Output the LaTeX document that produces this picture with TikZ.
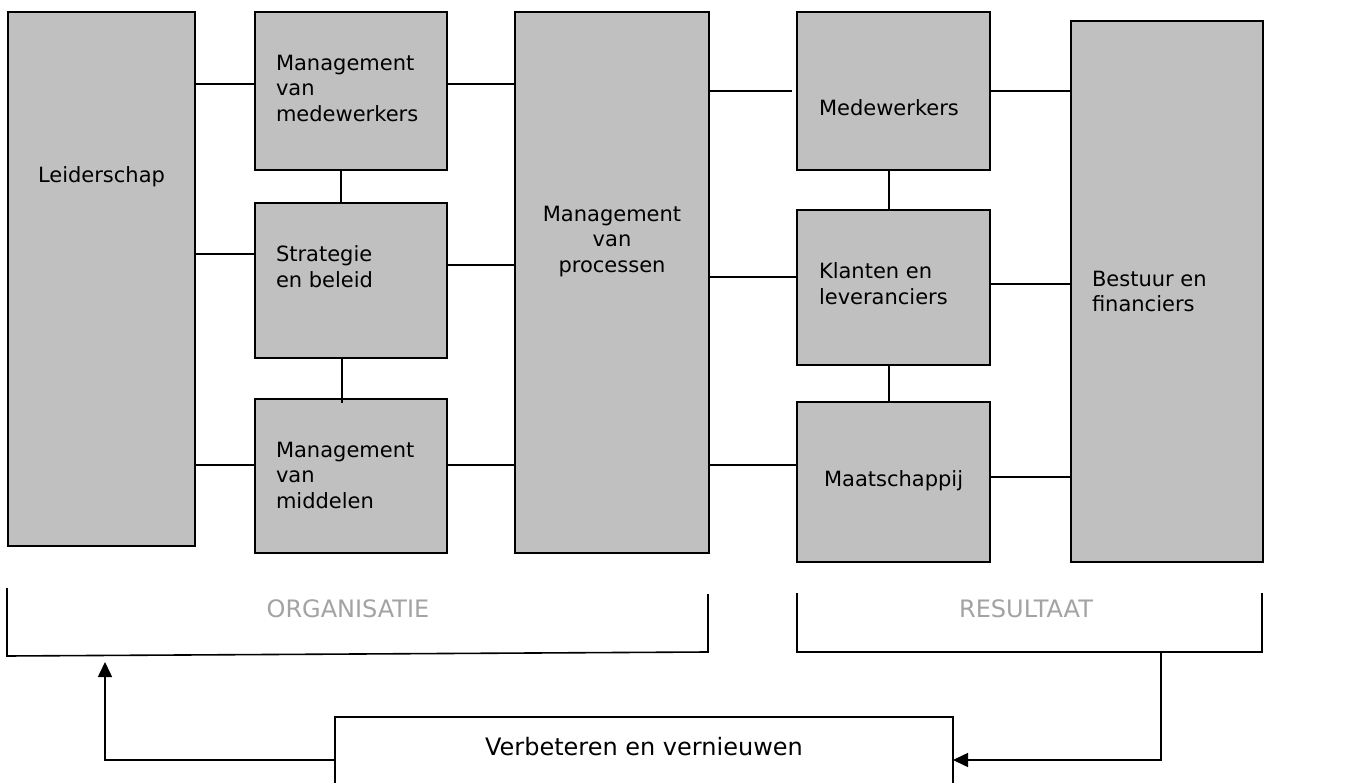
\documentclass[tikz,border=0pt]{standalone}
\usepackage{fontspec}
\setmainfont{DejaVu Sans}
\usetikzlibrary{arrows.meta}
\definecolor{boxfill}{HTML}{C0C0C0}
\definecolor{lblgray}{HTML}{A3A3A3}
\begin{document}
\begin{tikzpicture}[x=1pt,y=-1pt,
  box/.style={draw=black,line width=1.6pt,fill=boxfill,inner sep=0pt,outer sep=0pt,anchor=north west},
  wbox/.style={draw=black,line width=1.6pt,fill=white,inner sep=0pt,outer sep=0pt,anchor=north west},
  txt/.style={inner sep=0pt,outer sep=0pt,anchor=north west,align=left,text=black,font=\fontsize{21}{25.5}\selectfont},
  ctxt/.style={txt,anchor=north,align=center},
  big/.style={inner sep=0pt,outer sep=0pt,anchor=base,text=lblgray,font=\fontsize{24}{28}\selectfont},
  conn/.style={draw=black,line width=1.6pt},
  arr/.style={conn,-{Triangle[width=14pt,length=15pt]}}]
\clip (0,0) rectangle (1347,783);
\fill[white] (0,0) rectangle (1347,783);
% boxes
\node[box,minimum width=187pt,minimum height=534pt] (L) at (8,12) {};
\node[box,minimum width=192pt,minimum height=158pt] (MM) at (255,12) {};
\node[box,minimum width=192pt,minimum height=155pt] (SB) at (255,203) {};
\node[box,minimum width=192pt,minimum height=154pt] (MI) at (255,399) {};
\node[box,minimum width=194pt,minimum height=541pt] (P) at (515,12) {};
\node[box,minimum width=193pt,minimum height=158pt] (ME) at (797,12) {};
\node[box,minimum width=193pt,minimum height=155pt] (K) at (797,210) {};
\node[box,minimum width=193pt,minimum height=160pt] (MA) at (797,402) {};
\node[box,minimum width=192pt,minimum height=541pt] (B) at (1071,21) {};
\node[wbox,minimum width=618pt,minimum height=100pt] (V) at (335,717) {};
% texts
\node[txt] (tL) at (38,167) {Leiderschap};
\node[txt] (tMM) at (276,55) {Management\\van\\medewerkers};
\node[txt] (tSB) at (276,246) {Strategie\\en beleid};
\node[txt] (tMI) at (276,442) {Management\\van\\middelen};
\node[ctxt] (tP) at (612,206) {Management\\van\\processen};
\node[txt] (tME) at (819,100) {Medewerkers};
\node[txt] (tK) at (819,263) {Klanten en\\leveranciers};
\node[txt] (tMA) at (824,471) {Maatschappij};
\node[txt] (tB) at (1092,271) {Bestuur en\\financiers};
\node[txt,anchor=base,font=\fontsize{24}{28}\selectfont] (tV) at (644,755) {Verbeteren en vernieuwen};
% connectors left
\draw[conn] (L.east |- 0,84) -- (MM.west |- 0,84);
\draw[conn] (L.east |- 0,254) -- (SB.west |- 0,254);
\draw[conn] (L.east |- 0,465) -- (MI.west |- 0,465);
\draw[conn] (MM.south -| 341,0) -- (SB.north -| 341,0);
\draw[conn] (SB.south -| 342,0) -- ([yshift=-4pt]MI.north -| 342,0);
\draw[conn] (MM.east |- 0,84) -- (P.west |- 0,84);
\draw[conn] (SB.east |- 0,265) -- (P.west |- 0,265);
\draw[conn] (MI.east |- 0,465) -- (P.west |- 0,465);
% connectors right
\coordinate (gap) at (792,91);
\draw[conn] (P.east |- gap) -- (gap);
\draw[conn] (ME.east |- 0,91) -- (B.west |- 0,91);
\draw[conn] (ME.south -| 889,0) -- (K.north -| 889,0);
\draw[conn] (P.east |- 0,277) -- (K.west |- 0,277);
\draw[conn] (K.east |- 0,284) -- (B.west |- 0,284);
\draw[conn] (K.south -| 889,0) -- (MA.north -| 889,0);
\draw[conn] (P.east |- 0,465) -- (MA.west |- 0,465);
\draw[conn] (MA.east |- 0,477) -- (B.west |- 0,477);
% brackets
\coordinate (ol1) at (7,588);
\coordinate (ol2) at (7,656);
\coordinate (or2) at (708,652);
\coordinate (or1) at (708,594);
\draw[conn] (ol1) -- (ol2) -- (or2) -- (or1);
\coordinate (rl1) at (797,593);
\coordinate (rl2) at (797,652);
\coordinate (rr2) at (1262,652);
\coordinate (rr1) at (1262,593);
\draw[conn] (rl1) -- (rl2) -- (rr2) -- (rr1);
\node[big] (org) at (348,617) {ORGANISATIE};
\node[big] (res) at (1026,617) {RESULTAAT};
% arrows
\coordinate (upTip) at (105,662);
\draw[arr] (V.west |- 0,760) -- (105,760) -- (upTip);
\coordinate (rdrop) at (1161,652);
\draw[arr] (rdrop) -- (1161,760) -- (V.east |- 0,760);
\end{tikzpicture}
\end{document}
